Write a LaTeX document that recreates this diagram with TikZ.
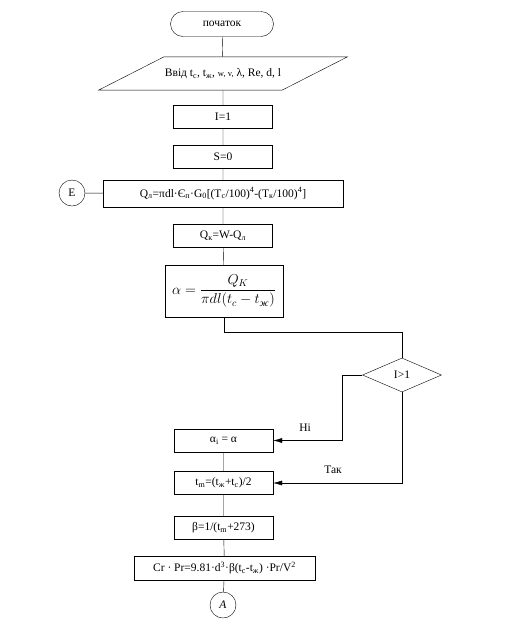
\documentclass[tikz,border=0pt]{standalone}
\usepackage{fontspec}
\setmainfont{Liberation Serif}
\usepackage{amsmath}
\usetikzlibrary{shapes.geometric,arrows.meta}
\newcommand{\nz}[1]{\textsubscript{#1}}
\newcommand{\vg}[1]{\textsuperscript{#1}}
\tikzset{
  blok/.style={draw,minimum width=99pt,minimum height=23pt,inner sep=2pt},
  vvid/.style={draw,trapezium,trapezium left angle=27,trapezium right angle=153,
    trapezium stretches body=true,minimum width=240pt,inner xsep=1pt,inner ysep=11.5pt},
  umova/.style={draw,diamond,aspect=2.3,minimum width=79pt,minimum height=34pt,inner sep=0pt},
  konektor/.style={draw,circle,minimum size=26pt,inner sep=0pt},
  strilka/.style={-{Latex[length=9pt,width=5pt]}}
}
\begin{document}
\begin{tikzpicture}[x=1pt,y=-1pt,font=\fontsize{11.5}{13}\selectfont]
\useasboundingbox (0,0) rectangle (507,622);
\node[draw,rounded corners=12.5pt,minimum width=103pt,minimum height=25pt] (poch) at (222,24) {початок};
\node[vvid] (inp) at (223,73.5) {Ввід t\nz{c}, t\nz{ж}, {\fontsize{8.5}{9}\selectfont w, v,} λ, Re, d, l};
\node[blok] (i1) at (223,116.5) {I=1};
\node[blok] (s0) at (223,156.5) {S=0};
\node[blok,minimum width=240pt,minimum height=27pt] (qn) at (223,193.5)
  {Q\nz{л}=πdl·Є\nz{п}·G\nz{0}[(T\nz{c}/100)\vg{4}-(T\nz{к}/100)\vg{4}]};
\node[konektor] (e) at (72,193) {E};
\node[blok] (qk) at (223,235.5) {Q\nz{к}=W-Q\nz{л}};
\node[blok,minimum width=118pt,minimum height=52pt,font=\fontsize{14}{16}\selectfont] (alf) at (224,291)
  {$\alpha=\dfrac{Q_K}{\pi dl(t_c-t_{\textit{ж}})}$};
\node[umova] (um) at (402,375) {I>1};
\node[blok] (ai) at (223.5,440.5) {α\nz{i} = α};
\node[blok] (tm) at (223.5,483) {t\nz{m}=(t\nz{ж}+t\nz{c})/2};
\node[blok] (beta) at (223.5,527.5) {β=1/(t\nz{m}+273)};
\node[blok,minimum width=181pt,minimum height=24pt] (cr) at (224.5,568)
  {Cr · Pr=9.81·d\vg{3}·β(t\nz{c}-t\nz{ж}) ·Pr/V\vg{2}};
\node[konektor] (a) at (223,605) {\textit{А}};
% zv'yazky
\draw (poch) -- (inp) -- (i1) -- (s0) -- (qn) -- (qk) -- (alf);
\draw (e) -- (qn);
\draw (alf.south) -- ++(0,15) -| (um.north);
\draw[strilka] (um.west) -- ++(-20,0) |- (ai.east);
\draw[strilka] (um.south) |- (tm.east);
\draw (ai) -- (tm) -- (beta) -- (cr) -- (a);
\node (ni) at (305,428) {Ні};
\node (tak) at (333,470) {Так};
\end{tikzpicture}
\end{document}
